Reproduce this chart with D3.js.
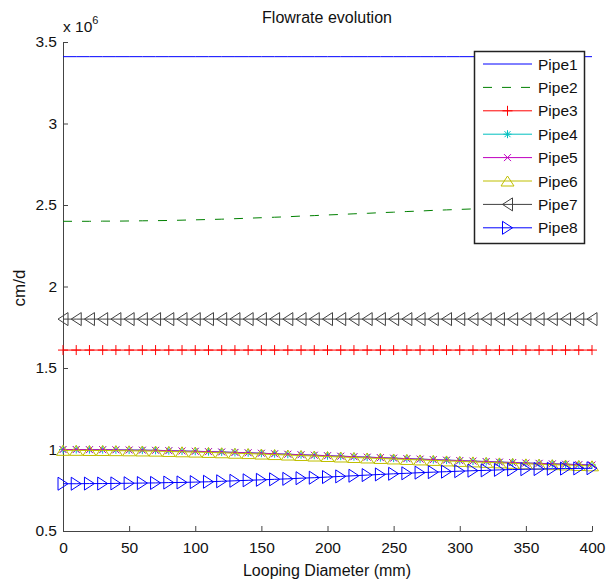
<!DOCTYPE html>
<html>
<head>
<meta charset="utf-8">
<script src="https://cdn.jsdelivr.net/npm/d3@7"></script>
<style>
body { margin: 0; background: #fff; }
text { font-family: "Liberation Sans", Arial, sans-serif; }
</style>
</head>
<body>
<script>
// looping diameter (mm), one point every 10 mm
var diam = [0,10,20,30,40,50,60,70,80,90,100,110,120,130,140,150,160,170,180,190,200,
            210,220,230,240,250,260,270,280,290,300,310,320,330,340,350,360,370,380,390,400];

// flowrates in units of 10^6 cm/d
var pipe1 = [3.41,3.41,3.41,3.41,3.41,3.41,3.41,3.41,3.41,3.41,3.41,3.41,3.41,3.41,3.41,3.41,3.41,3.41,3.41,3.41,3.41,
             3.41,3.41,3.41,3.41,3.41,3.41,3.41,3.41,3.41,3.41,3.41,3.41,3.41,3.41,3.41,3.41,3.41,3.41,3.41,3.41];
var pipe2 = [2.400,2.400,2.400,2.401,2.401,2.402,2.403,2.404,2.405,2.407,2.409,2.411,2.413,2.416,2.419,2.422,2.425,2.428,2.432,2.435,2.439,
             2.442,2.446,2.449,2.453,2.456,2.460,2.463,2.467,2.470,2.473,2.476,2.479,2.482,2.485,2.487,2.490,2.492,2.495,2.497,2.499];
var pipe3 = [1.61,1.61,1.61,1.61,1.61,1.61,1.61,1.61,1.61,1.61,1.61,1.61,1.61,1.61,1.61,1.61,1.61,1.61,1.61,1.61,1.61,
             1.61,1.61,1.61,1.61,1.61,1.61,1.61,1.61,1.61,1.61,1.61,1.61,1.61,1.61,1.61,1.61,1.61,1.61,1.61,1.61];
var pipe4 = [1.000,1.000,0.999,0.999,0.998,0.997,0.996,0.995,0.993,0.991,0.989,0.987,0.985,0.982,0.980,0.977,0.974,0.971,0.968,0.965,0.962,
             0.959,0.956,0.953,0.950,0.947,0.944,0.941,0.938,0.935,0.932,0.929,0.926,0.923,0.920,0.917,0.915,0.912,0.910,0.907,0.905];
var pipe5 = [1.000,1.000,0.999,0.999,0.998,0.997,0.996,0.995,0.993,0.991,0.989,0.987,0.985,0.982,0.980,0.977,0.974,0.971,0.968,0.965,0.962,
             0.959,0.956,0.953,0.950,0.947,0.944,0.941,0.938,0.935,0.932,0.929,0.926,0.923,0.920,0.917,0.915,0.912,0.910,0.907,0.905];
var pipe6 = [0.995,0.995,0.994,0.994,0.993,0.992,0.991,0.990,0.988,0.986,0.984,0.982,0.980,0.977,0.975,0.972,0.969,0.966,0.963,0.960,0.957,
             0.954,0.951,0.948,0.945,0.942,0.939,0.936,0.933,0.930,0.927,0.924,0.921,0.918,0.915,0.912,0.910,0.907,0.905,0.902,0.900];
var pipe7 = [1.80,1.80,1.80,1.80,1.80,1.80,1.80,1.80,1.80,1.80,1.80,1.80,1.80,1.80,1.80,1.80,1.80,1.80,1.80,1.80,1.80,
             1.80,1.80,1.80,1.80,1.80,1.80,1.80,1.80,1.80,1.80,1.80,1.80,1.80,1.80,1.80,1.80,1.80,1.80,1.80,1.80];
var pipe8 = [0.790,0.790,0.791,0.791,0.792,0.793,0.794,0.795,0.797,0.798,0.800,0.802,0.805,0.808,0.811,0.814,0.817,0.820,0.824,0.827,0.831,
             0.835,0.839,0.843,0.847,0.851,0.854,0.858,0.861,0.864,0.867,0.870,0.872,0.875,0.877,0.879,0.880,0.882,0.883,0.884,0.885];

var names = ["Pipe1","Pipe2","Pipe3","Pipe4","Pipe5","Pipe6","Pipe7","Pipe8"];
var xTicks = [0,50,100,150,200,250,300,350,400];
var yTicks = [0.5,1,1.5,2,2.5,3,3.5];

var series = [pipe1,pipe2,pipe3,pipe4,pipe5,pipe6,pipe7,pipe8];
// matlab-ish default line colours and markers
var colors = ["#0000ff","#008000","#ff0000","#00bfbf","#bf00bf","#bfbf00","#404040","#0000ff"];
var dashes = [null,"9,10",null,null,null,null,null,null];
var markers = [
    null,
    null,
    "M-5,0H5M0,-5V5",                                 // +
    "M-4,0H4M0,-4V4M-3,-3L3,3M-3,3L3,-3",             // *
    "M-3.5,-3.5L3.5,3.5M-3.5,3.5L3.5,-3.5",           // x
    "M0,-5L6.5,5L-6.5,5Z",                            // ^
    "M-5,0L5,-6.5L5,6.5Z",                            // <
    "M5,0L-5,-6.5L-5,6.5Z"                            // >
];

var width = 606, height = 582;

var svg = d3.select("body")
    .append("svg")
    .attr("width", width)
    .attr("height", height);

var x = d3.scaleLinear().domain([0, 400]).range([63, 592]);
var y = d3.scaleLinear().domain([0.5, 3.5]).range([531, 42]);

//axes, ticks pointing inward, no box
var xAxis = svg.append("g")
    .attr("transform", "translate(0,531)")
    .call(d3.axisBottom(x).tickValues(xTicks).tickSizeInner(-5).tickSizeOuter(0).tickPadding(11));
var yAxis = svg.append("g")
    .attr("transform", "translate(63,0)")
    .call(d3.axisLeft(y).tickValues(yTicks).tickFormat(d => String(d)).tickSizeInner(-5).tickSizeOuter(0).tickPadding(6));

[xAxis, yAxis].forEach(g => {
    g.selectAll("path, line").attr("stroke", "#444");
    g.selectAll("text")
        .attr("fill", "#111")
        .style("font-size", "15.5px")
        .style("font-family", "'Liberation Sans', Arial, sans-serif");
});

// the data
var line = d3.line()
    .x((d, i) => x(diam[i]))
    .y(d => y(d));

series.forEach((s, k) => {
    var g = svg.append("g");
    g.append("path")
        .datum(s)
        .attr("fill", "none")
        .attr("stroke", colors[k])
        .attr("stroke-width", 1)
        .attr("stroke-dasharray", dashes[k])
        .attr("d", line);
    if (markers[k]) {
        g.selectAll(".m")
            .data(s)
            .enter().append("path")
            .attr("class", "m")
            .attr("transform", (d, i) => `translate(${x(diam[i])},${y(d)})`)
            .attr("d", markers[k])
            .attr("fill", "none")
            .attr("stroke", colors[k])
            .attr("stroke-width", 1);
    }
});

//titles
svg.append("text")
    .attr("x", 327).attr("y", 23)
    .attr("text-anchor", "middle")
    .attr("font-size", "16px")
    .attr("fill", "#111")
    .text("Flowrate evolution");

svg.append("text")
    .attr("x", 327).attr("y", 576)
    .attr("text-anchor", "middle")
    .attr("font-size", "16px")
    .attr("fill", "#111")
    .text("Looping Diameter (mm)");

svg.append("text")
    .attr("transform", "translate(25,288) rotate(-90)")
    .attr("text-anchor", "middle")
    .attr("font-size", "17px")
    .attr("fill", "#111")
    .text("cm/d");

// exponent label
var ex = svg.append("text")
    .attr("x", 63).attr("y", 32)
    .attr("font-size", "15.5px")
    .attr("fill", "#111");
ex.append("tspan").text("x 10");
ex.append("tspan").attr("dy", -8).attr("font-size", "11px").text("6");

// legend
var leg = svg.append("g").attr("transform", "translate(474,51)");
leg.append("rect")
    .attr("x", 0.5).attr("y", 0.5)
    .attr("width", 110).attr("height", 192)
    .attr("fill", "#fff")
    .attr("stroke", "#222")
    .attr("stroke-width", 1.5);

names.forEach((n, k) => {
    var ry = 13 + k * 23.4;
    var row = leg.append("g").attr("transform", `translate(0,${ry})`);
    row.append("line")
        .attr("x1", 9).attr("x2", 58)
        .attr("y1", 0).attr("y2", 0)
        .attr("stroke", colors[k])
        .attr("stroke-width", 1)
        .attr("stroke-dasharray", dashes[k]);
    if (markers[k]) {
        row.append("path")
            .attr("transform", "translate(33.5,0)")
            .attr("d", markers[k])
            .attr("fill", "none")
            .attr("stroke", colors[k]);
    }
    row.append("text")
        .attr("x", 64).attr("y", 5.5)
        .attr("font-size", "15.5px")
        .attr("fill", "#111")
        .text(n);
});
</script>
</body>
</html>
